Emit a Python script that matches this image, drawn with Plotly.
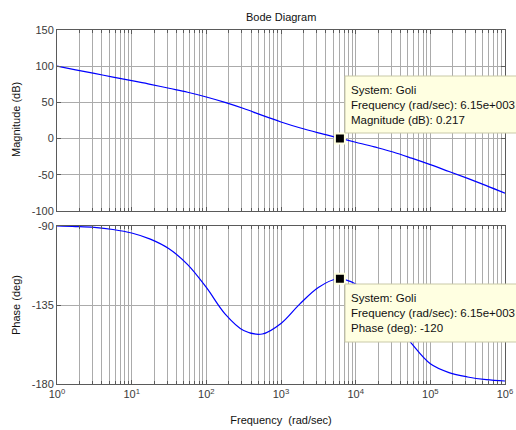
import plotly.graph_objects as go

# ---------------- data ----------------
omega = [1, 1.778, 3.162, 5.623, 10, 17.78, 31.62, 56.23, 100, 177.8, 316.2, 562.3,
         1000, 1778, 3162, 5623, 10000, 17780, 31620, 56230, 100000, 177800, 316200,
         562300, 1000000]
mag_db = [100, 95, 90, 85, 80, 75, 69.5, 64, 57.5, 50, 41.5, 32,
          23, 15, 8, 1.5, -5, -11.5, -18.5, -27, -36, -45.5, -55, -65, -75.5]
phase_deg = [-90, -90.3, -90.8, -92, -94, -97.5, -103, -112, -125, -140, -149.5, -151.5,
             -145.5, -134.5, -125, -120.2, -123, -131.5, -143, -157, -168.5, -173.5, -176,
             -177.5, -178.3]

tip_freq = 6150
tip_mag = 0.217
tip_phase = -120
tip_mag_lines = ["System: Goli", "Frequency (rad/sec): 6.15e+003", "Magnitude (dB): 0.217"]
tip_phase_lines = ["System: Goli", "Frequency (rad/sec): 6.15e+003", "Phase (deg): -120"]

x_tickvals = [1, 10, 100, 1000, 10000, 100000, 1000000]
x_ticktext = ["10<sup>0</sup>", "10<sup>1</sup>", "10<sup>2</sup>", "10<sup>3</sup>",
              "10<sup>4</sup>", "10<sup>5</sup>", "10<sup>6</sup>"]
x_minor = [k * d for d in [1, 10, 100, 1000, 10000, 100000] for k in range(2, 10)]
mag_ticks = [-100, -50, 0, 50, 100, 150]
mag_ticktext = ["-100", "-50", "0", "50", "100", "150"]
phase_ticks = [-180, -135, -90]
phase_ticktext = ["-180", "-135", "-90"]

# ---------------- styling ----------------
FONT = "Liberation Sans, Arial, sans-serif"
GRID = "#ababab"
FRAME = "#5a5a5a"
TIPFILL = "#ffffe1"
TIPLINE = "#c9c9a8"
TICKCOL = "#3a3a3a"

W, H = 516, 430
ml, mr, mt, mb = 57, 11, 30, 46
ph = H - mt - mb


def py2paper(py):
    return (H - mb - py) / ph


def px2paper(px):
    return (px - ml) / (W - ml - mr)


top_dom = [py2paper(211), 1]
bot_dom = [0, py2paper(226)]

fig = go.Figure()
fig.add_trace(go.Scatter(x=omega, y=mag_db, mode="lines", line=dict(color="#0000ff", width=1.2, shape="spline"),
                         xaxis="x", yaxis="y", showlegend=False))
fig.add_trace(go.Scatter(x=omega, y=phase_deg, mode="lines", line=dict(color="#0000ff", width=1.2, shape="spline"),
                         xaxis="x2", yaxis="y2", showlegend=False))

common_x = dict(type="log", range=[0, 6], showline=True, linecolor=FRAME, linewidth=1, mirror="all",
                ticks="inside", ticklen=4, tickcolor=FRAME, tickvals=x_tickvals, automargin=False,
                showgrid=True, gridcolor=GRID, gridwidth=1, zeroline=False,
                minor=dict(tickvals=x_minor, ticks="inside", ticklen=3, tickcolor=FRAME,
                           showgrid=True, gridcolor=GRID, gridwidth=1),
                tickfont=dict(family=FONT, size=11, color=TICKCOL))

common_y = dict(showline=True, linecolor=FRAME, linewidth=1, mirror="all", ticks="inside", ticklen=4,
                tickcolor=FRAME, showgrid=True, gridcolor=GRID, gridwidth=1, zeroline=False,
                automargin=False, tickfont=dict(family=FONT, size=11, color=TICKCOL))

fig.update_layout(
    template="none",
    width=W, height=H,
    margin=dict(l=ml, r=mr, t=mt, b=mb, autoexpand=False),
    paper_bgcolor="white", plot_bgcolor="white",
    font=dict(family=FONT, size=11, color="#222222"),
    xaxis=dict(common_x, anchor="y", showticklabels=False, matches="x2"),
    xaxis2=dict(common_x, anchor="y2", ticktext=x_ticktext, showticklabels=True,
                title=dict(text="Frequency  (rad/sec)", standoff=17,
                           font=dict(family=FONT, size=11, color="#111111"))),
    yaxis=dict(common_y, domain=top_dom, range=[-100, 150], tickvals=mag_ticks, ticktext=mag_ticktext),
    yaxis2=dict(common_y, domain=bot_dom, range=[-180, -90], tickvals=phase_ticks, ticktext=phase_ticktext),
    showlegend=False,
)

annotations = [
    dict(text="Bode Diagram", xref="paper", yref="paper", x=0.5, y=py2paper(17), xanchor="center",
         yanchor="middle", showarrow=False, font=dict(family=FONT, size=11, color="#111111")),
    dict(text="Magnitude (dB)", xref="paper", yref="paper", x=px2paper(16), y=py2paper(120),
         xanchor="center", yanchor="middle", textangle=-90, showarrow=False,
         font=dict(family=FONT, size=11, color="#111111")),
    dict(text="Phase (deg)", xref="paper", yref="paper", x=px2paper(16), y=py2paper(305),
         xanchor="center", yanchor="middle", textangle=-90, showarrow=False,
         font=dict(family=FONT, size=11, color="#111111")),
]

shapes = [
    dict(type="rect", xref="paper", yref="paper", x0=px2paper(345), x1=px2paper(540),
         y0=py2paper(133), y1=py2paper(76), fillcolor=TIPFILL, line=dict(color=TIPLINE, width=1), layer="above"),
    dict(type="rect", xref="paper", yref="paper", x0=px2paper(345), x1=px2paper(540),
         y0=py2paper(342), y1=py2paper(284), fillcolor=TIPFILL, line=dict(color=TIPLINE, width=1), layer="above"),
]

for i, t in enumerate(tip_mag_lines):
    annotations.append(dict(text=t, xref="paper", yref="paper", x=px2paper(349), y=py2paper(90 + 15 * i),
                            xanchor="left", yanchor="middle", showarrow=False,
                            font=dict(family=FONT, size=11.5, color="#111111")))
for i, t in enumerate(tip_phase_lines):
    annotations.append(dict(text=t, xref="paper", yref="paper", x=px2paper(349), y=py2paper(298 + 15 * i),
                            xanchor="left", yanchor="middle", showarrow=False,
                            font=dict(family=FONT, size=11.5, color="#111111")))

fig.update_layout(annotations=annotations, shapes=shapes)

fig.add_trace(go.Scatter(x=[tip_freq], y=[tip_mag], mode="markers", xaxis="x", yaxis="y",
                         marker=dict(symbol="square", size=10, color="black", line=dict(color=TIPFILL, width=2)),
                         showlegend=False, cliponaxis=False))
fig.add_trace(go.Scatter(x=[tip_freq], y=[tip_phase], mode="markers", xaxis="x2", yaxis="y2",
                         marker=dict(symbol="square", size=10, color="black", line=dict(color=TIPFILL, width=2)),
                         showlegend=False, cliponaxis=False))

fig.write_html("out.html")
